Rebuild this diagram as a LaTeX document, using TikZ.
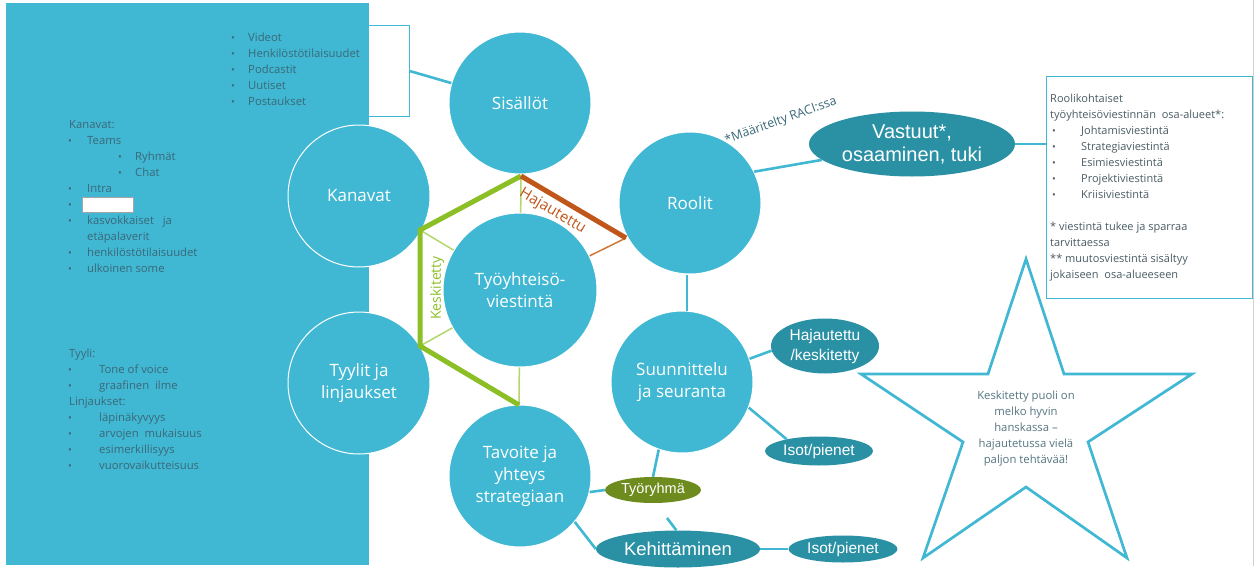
\documentclass[tikz,border=0pt]{standalone}
\usepackage{fontspec}
\setmainfont{Open Sans}
\newfontfamily\arialf{Liberation Sans}
\usetikzlibrary{calc,shapes.geometric}

\definecolor{cyanfill}{HTML}{41B8D3}
\definecolor{tealdark}{HTML}{2A91A5}
\definecolor{hexgreen}{HTML}{8CBF26}
\definecolor{lightgreen}{HTML}{B5D66B}
\definecolor{hexorange}{HTML}{C0561A}
\definecolor{thinorange}{HTML}{D0783A}
\definecolor{olive}{HTML}{6E8B1E}
\definecolor{listtext}{HTML}{3A6878}
\definecolor{boxtext}{HTML}{4A5C64}
\definecolor{startext}{HTML}{557580}

\tikzset{
  topic/.style={circle, fill=cyanfill, draw=white, line width=1pt, minimum size=142pt,
    inner sep=0pt, text=white, align=center, font=\fontsize{17}{22}\selectfont},
  hub/.style={topic, minimum size=154pt},
  bubble/.style={ellipse, fill=tealdark, inner sep=0pt, text=white, align=center},
  link/.style={draw=cyanfill, line width=2.6pt},
  hexthick/.style={draw=hexgreen, line width=5pt},
  hexthin/.style={draw=lightgreen, line width=1.5pt},
  lt/.style={anchor=base west, inner sep=0pt, text=listtext, font=\fontsize{11.3}{13}\selectfont},
  bt/.style={lt, text=boxtext, font=\fontsize{11}{13}\selectfont},
  bul/.style={anchor=base, inner sep=0pt, text=listtext, font=\fontsize{10}{11}\selectfont},
  bbul/.style={bul, text=boxtext},
}

\begin{document}
\begin{tikzpicture}[x=1pt,y=-1pt]
\useasboundingbox (0,0) rectangle (1254,568);
\fill[white] (0,0) rectangle (1254,568);
\draw[black!18, line width=0.8pt] (1253,0) -- (1253,566);

% frame around the content list, partly under the side panel
\node[draw=cyanfill, line width=1.2pt, anchor=north east, minimum width=185pt,
  minimum height=91pt, inner sep=0pt] (lst) at (410,25) {};

% side panel
\fill[cyanfill] (6,3) rectangle (369,565);

% role details box
\node[draw=cyanfill, line width=1.2pt, anchor=north west, minimum width=206pt,
  minimum height=222pt, inner sep=0pt] (rbox) at (1046,76) {};

% star
\draw[draw=cyanfill, line width=2.7pt, line join=miter, fill=white]
  (1026,259) -- (1064,374) -- (1192,374) -- (1088,442) -- (1127,558)
  -- (1026,487) -- (923,558) -- (963,442) -- (861,374) -- (988,374) -- cycle;
\node[align=center, text=startext, font=\fontsize{11.3}{16}\selectfont] (startxt) at (1026,429)
  {Keskitetty puoli on\\melko hyvin\\hanskassa --\\hajautetussa vielä\\paljon tehtävää!};

% main topics
\node[topic] (sis) at (520,103) {Sisällöt};
\node[topic] (kan) at (359,196) {Kanavat};
\node[topic] (tyy) at (359,383) {Tyylit ja\\linjaukset};
\node[hub]   (ty)  at (520,290) {Työyhteisö-\\viestintä};
\node[topic] (rool) at (690,203) {Roolit};
\node[topic] (suun) at (682,382) {Suunnittelu\\ja seuranta};
\node[topic] (tav) at (520,476) {Tavoite ja\\yhteys\\strategiaan};

% secondary bubbles
\node[bubble, minimum width=206pt, minimum height=65pt, font=\arialf\fontsize{20}{23}\selectfont]
  (vast) at (912,144) {Vastuut*,\\osaaminen, tuki};
\node[bubble, minimum width=108pt, minimum height=55pt, font=\arialf\fontsize{15.5}{20}\selectfont]
  (hk) at (825,346) {Hajautettu\\/keskitetty};
\node[bubble, minimum width=108pt, minimum height=29pt, font=\arialf\fontsize{15.5}{18}\selectfont]
  (iso1) at (819,451) {Isot/pienet};
\node[bubble, fill=olive, minimum width=96pt, minimum height=26pt, font=\arialf\fontsize{14.5}{17}\selectfont]
  (tr) at (653,490) {Työryhmä};
\node[bubble, minimum width=164pt, minimum height=37pt, font=\arialf\fontsize{18.5}{21}\selectfont]
  (keh) at (678,549) {Kehittäminen};
\node[bubble, minimum width=109pt, minimum height=27pt, font=\arialf\fontsize{15.5}{18}\selectfont]
  (iso2) at (843,549) {Isot/pienet};

% connectors
\draw[link] (lst.east) -- (sis);
\draw[link] (rool.26) -- (vast.190);
\draw[link] (vast.east) -- (vast.east -| rbox.west);
\draw[link] ($(rool.south)+(-3,0)$) -- ($(suun.north)+(5,0)$);
\draw[link] (suun.19) -- (hk.185);
\draw[link] (suun.-21) -- (iso1.160);
\draw[link] (suun.251) -- (tr.north);
\draw[link] (tav.-13) -- (tr.west);
\draw[link] (tav.-40) -- (keh.west);
\draw[link] (keh.east) -- (iso2.west);
\coordinate (stub) at (667,518);
\draw[link] (keh.95) -- (stub);

\node[rotate=20, text=listtext, inner sep=0pt, font=\fontsize{12.5}{14}\selectfont]
  (raci) at (781,121) {*Määritelty RACI:ssa};

% centralised / decentralised frame around the hub
\coordinate (hT)  at (521,176);
\coordinate (hUL) at (420,230);
\coordinate (hLL) at (420,346);
\coordinate (hB)  at (519,405);
\coordinate (hUR) at (626,238);
\draw[hexthin] (hT) -- (ty);
\draw[hexthin] (hUL) -- (ty);
\draw[hexthin] (hLL) -- (ty);
\draw[hexthin] (hB) -- (ty);
\draw[draw=thinorange, line width=1.5pt] (hUR) -- (ty);
\draw[hexthick] (hT) -- (hUL) -- (hLL) -- (hB);
\draw[draw=hexorange, line width=5pt] (hT) -- (hUR);
\path (hLL) -- (hUL) node[midway, sloped, below=10pt, inner sep=0pt, text=hexgreen,
  font=\fontsize{14}{16}\selectfont] (kesk) {Keskitetty};
\path (hT) -- (hUR) node[pos=0.37, sloped, below=7pt, inner sep=0pt, text=hexorange,
  font=\fontsize{15}{17}\selectfont] (haj) {Hajautettu};

% content list
\foreach \y/\t [count=\i] in {37/Videot, 53/Henkilöstötilaisuudet, 69/Podcastit, 85/Uutiset, 101/Postaukset} {
  \node[bul] (sb\i) at (233,\y+4) {•};
  \node[lt]  (st\i) at (248,\y+4) {\t};
}

% channel list
\node[lt] (kh) at (69,128) {Kanavat:};
\foreach \bx/\tx/\y/\t [count=\i] in {70/87/140/Teams, 120/135/156/Ryhmät, 120/135/172/Chat,
    70/87/188/Intra, 70/87/220/{kasvokkaiset\ \ \ ja}, 70/87/252/henkilöstötilaisuudet, 70/87/268/ulkoinen some} {
  \node[bul] (kb\i) at (\bx,\y+4) {•};
  \node[lt]  (kt\i) at (\tx,\y+4) {\t};
}
\node[lt] (kt8) at (87,240) {etäpalaverit};
\node[bul] (kb8) at (70,208) {•};
\node[draw=black!35, fill=white, line width=0.6pt, minimum width=51pt, minimum height=15pt,
  inner sep=0pt] (blank) at (107.5,204.5) {};

% style list
\node[lt] (yh1) at (69,357) {Tyyli:};
\node[lt] (yh2) at (69,405) {Linjaukset:};
\foreach \y/\t [count=\i] in {369/Tone of voice, 385/{graafinen\ \ ilme}, 417/läpinäkyvyys,
    433/{arvojen\ \ mukaisuus}, 449/esimerkillisyys, 465/vuorovaikutteisuus} {
  \node[bul] (yb\i) at (70,\y+4) {•};
  \node[lt]  (yt\i) at (99,\y+4) {\t};
}

% role details
\node[bt] (r1) at (1050,102) {Roolikohtaiset};
\node[bt] (r2) at (1050,118) {työyhteisöviestinnän\ \ osa-alueet*:};
\foreach \y/\t [count=\i] in {130/Johtamisviestintä, 146/Strategiaviestintä, 162/Esimiesviestintä,
    178/Projektiviestintä, 194/Kriisiviestintä} {
  \node[bbul] (rb\i) at (1054,\y+4) {•};
  \node[bt]   (rt\i) at (1081,\y+4) {\t};
}
\node[bt] (r3) at (1050,230) {* viestintä tukee ja sparraa};
\node[bt] (r4) at (1050,246) {tarvittaessa};
\node[bt] (r5) at (1050,262) {** muutosviestintä sisältyy};
\node[bt] (r6) at (1050,278) {jokaiseen\ \ osa-alueeseen};
\end{tikzpicture}
\end{document}
